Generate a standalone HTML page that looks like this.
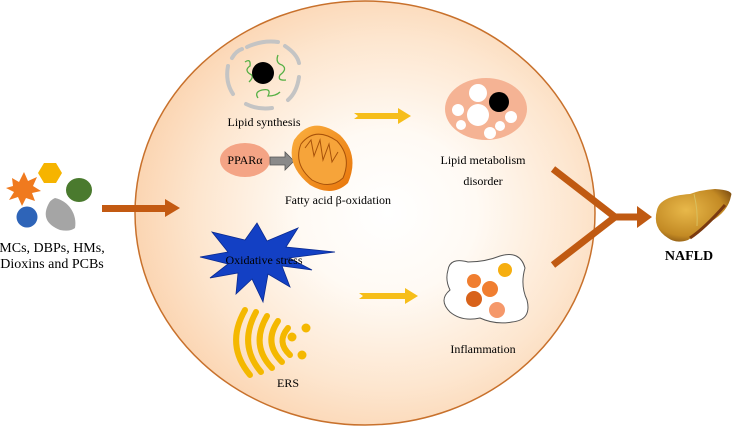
<!DOCTYPE html>
<html><head><meta charset="utf-8"><style>
html,body{margin:0;padding:0;background:#fff;}
svg{display:block;font-family:"Liberation Serif",serif;}
</style></head><body>
<svg width="734" height="427" viewBox="0 0 734 427" xmlns="http://www.w3.org/2000/svg">
<defs>
<radialGradient id="cell" cx="0.55" cy="0.5" r="0.55">
<stop offset="0" stop-color="#ffffff"/>
<stop offset="0.35" stop-color="#fffaf4"/>
<stop offset="0.75" stop-color="#fde6cf"/>
<stop offset="1" stop-color="#fbd5b2"/>
</radialGradient>
<radialGradient id="liver" cx="0.4" cy="0.4" r="0.7">
<stop offset="0" stop-color="#e8b84a"/>
<stop offset="0.7" stop-color="#c38a24"/>
<stop offset="1" stop-color="#7a4a10"/>
</radialGradient>
<linearGradient id="mito" x1="0" y1="0" x2="1" y2="1">
<stop offset="0" stop-color="#fbb040"/><stop offset="1" stop-color="#e8750a"/>
</linearGradient>
</defs>
<ellipse cx="365" cy="213" rx="230" ry="212" fill="url(#cell)" stroke="#c8712c" stroke-width="1.5"/>

<!-- left pollutants -->
<polygon points="6,188 13,186 12,178 19,182 24,172 28,181 37,177 33,186 41,191 32,193 35,201 26,198 22,206 18,197 9,200 14,192" fill="#f07a1e"/>
<polygon points="44,163 56,163 62,173 56,183 44,183 38,173" fill="#f6b400"/>
<ellipse cx="79" cy="190" rx="13" ry="12" fill="#4a7a2e"/>
<circle cx="27" cy="217" r="10.5" fill="#2e64b8"/>
<path d="M55,198 A26,26 0 0 1 75,228 Q70,232 60,230 Q40,222 48,205 Q50,200 55,198 Z" fill="#a5a5a5"/>
<text x="52" y="252" font-size="14" text-anchor="middle">MCs, DBPs, HMs,</text>
<text x="52" y="268" font-size="14" text-anchor="middle">Dioxins and PCBs</text>
<!-- brown arrow -->
<polygon points="102,205 165,205 165,199 180,208 165,217 165,212 102,212" fill="#c35a12"/>

<!-- nucleus -->
<g fill="none" stroke="#c4c4c4" stroke-width="4" stroke-linecap="round">
<path d="M247,47 Q262,40 278,42"/>
<path d="M285,46 Q297,54 299,63"/>
<path d="M299,77 Q297,92 288,100"/>
<path d="M272,108 Q258,110 246,104"/>
<path d="M233,94 Q225,82 228,66"/>
<path d="M232,58 Q236,51 242,49"/>
</g>
<g fill="none" stroke="#55b044" stroke-width="1.3">
<path d="M245,62 q6,-4 5,4 q-6,4 0,8 q5,2 -1,8"/>
<path d="M278,55 q-3,8 4,10 q6,4 -2,10 q-3,6 6,5"/>
<path d="M258,98 q-4,-6 4,-8 q10,-2 6,6 q8,0 12,-4"/>
</g>
<ellipse cx="263" cy="73" rx="11" ry="11" fill="#000"/>
<text x="264" y="126" font-size="12" text-anchor="middle">Lipid synthesis</text>

<!-- PPAR -->
<ellipse cx="245" cy="160" rx="25" ry="17" fill="#f4a485"/>
<text x="245" y="164" font-size="12" text-anchor="middle">PPARα</text>
<polygon points="270,157 285,157 285,152 294,161 285,170 285,165 270,165" fill="#8a8a8a" stroke="#555" stroke-width="0.8"/>
<!-- mitochondrion -->
<path d="M294,140 Q312,114 340,135 Q360,155 348,183 Q332,198 310,185 Q285,165 294,140Z" fill="url(#mito)"/>
<path d="M301,144 Q315,126 337,141 Q352,157 343,178 Q330,190 312,180 Q293,164 301,144Z" fill="#f6a43a" stroke="#a8520a" stroke-width="1"/>
<path d="M305,148 l6,-8 l3,16 l6,-16 l3,20 l6,-16 l3,18 l6,-10" fill="none" stroke="#a8520a" stroke-width="1"/>
<text x="338" y="204" font-size="12" text-anchor="middle">Fatty acid β-oxidation</text>

<!-- yellow arrows -->
<polygon points="354,113 398,113 398,108 411,116 398,124 398,119 354,119 358,116" fill="#f6be1a"/>
<polygon points="359,293 405,293 405,288 418,296 405,304 405,299 359,299 363,296" fill="#f6be1a"/>

<!-- lipid droplet cell -->
<ellipse cx="486" cy="109" rx="41" ry="31" fill="#f5b394"/>
<circle cx="478" cy="93" r="9" fill="#fff"/>
<circle cx="499" cy="102" r="10" fill="#000"/>
<circle cx="478" cy="115" r="11" fill="#fff"/>
<circle cx="458" cy="110" r="6" fill="#fff"/>
<circle cx="461" cy="125" r="5" fill="#fff"/>
<circle cx="490" cy="133" r="6" fill="#fff"/>
<circle cx="500" cy="126" r="5" fill="#fff"/>
<circle cx="511" cy="117" r="6" fill="#fff"/>
<text x="483" y="164" font-size="12" text-anchor="middle">Lipid metabolism</text>
<text x="483" y="185" font-size="12" text-anchor="middle">disorder</text>

<!-- Y arrow -->
<g stroke="#c05a12" stroke-width="7" stroke-linecap="butt" fill="none">
<line x1="553" y1="169" x2="615" y2="217"/>
<line x1="553" y1="265" x2="615" y2="217"/>
<line x1="612" y1="217" x2="640" y2="217"/>
</g>
<polygon points="637,206 652,217 637,228" fill="#c05a12"/>

<!-- liver -->
<path d="M657,210 Q660,196 690,194 Q700,190 715,189 Q734,190 731,196 Q728,212 710,222 Q700,232 688,240 Q676,244 668,238 Q652,228 657,210Z" fill="url(#liver)"/>
<path d="M694,194 Q698,210 697,226" stroke="#d8c060" stroke-width="1" fill="none"/>
<path d="M690,238 Q705,228 725,205" stroke="#7a3a10" stroke-width="3" fill="none"/>
<text x="689" y="260" font-size="14" font-weight="bold" text-anchor="middle">NAFLD</text>

<!-- inflammation cell -->
<path d="M448,270 Q450,257 468,262 Q485,262 500,256 Q520,250 525,268 Q520,285 527,300 Q532,320 512,322 Q495,325 480,318 Q462,322 450,312 Q438,300 450,290 Q445,280 448,270Z" fill="#fff" stroke="#555" stroke-width="1"/>
<circle cx="474" cy="281" r="7" fill="#f07e30"/>
<circle cx="505" cy="270" r="7" fill="#f6ae10"/>
<circle cx="490" cy="289" r="8" fill="#f07e30"/>
<circle cx="474" cy="299" r="8" fill="#d8621a"/>
<circle cx="497" cy="310" r="8" fill="#f5986a"/>
<text x="483" y="353" font-size="12" text-anchor="middle">Inflammation</text>

<!-- oxidative stress star -->
<polygon points="212,232 245,240 257,223 267,241 298,228 286,247 335,252 289,258 312,270 282,266 290,287 268,274 263,302 252,279 236,294 238,273 210,278 228,264 200,257 228,252" fill="#1340c4" stroke="#0a2a90" stroke-width="0.8"/>
<text x="264" y="264" font-size="12" text-anchor="middle">Oxidative stress</text>

<!-- ERS -->
<g fill="none" stroke="#f4b800" stroke-width="6" stroke-linecap="round">
<path d="M245,310 Q225,345 250,375"/>
<path d="M256,312 Q238,345 261,372"/>
<path d="M267,316 Q250,345 272,368"/>
<path d="M278,321 Q263,343 282,362"/>
<path d="M288,328 Q276,342 290,355"/>
</g>
<circle cx="292" cy="337" r="4.5" fill="#f4b800"/>
<circle cx="306" cy="328" r="4.5" fill="#f4b800"/>
<circle cx="302" cy="355" r="4.5" fill="#f4b800"/>
<text x="288" y="387" font-size="12" text-anchor="middle">ERS</text>
</svg>
</body></html>
